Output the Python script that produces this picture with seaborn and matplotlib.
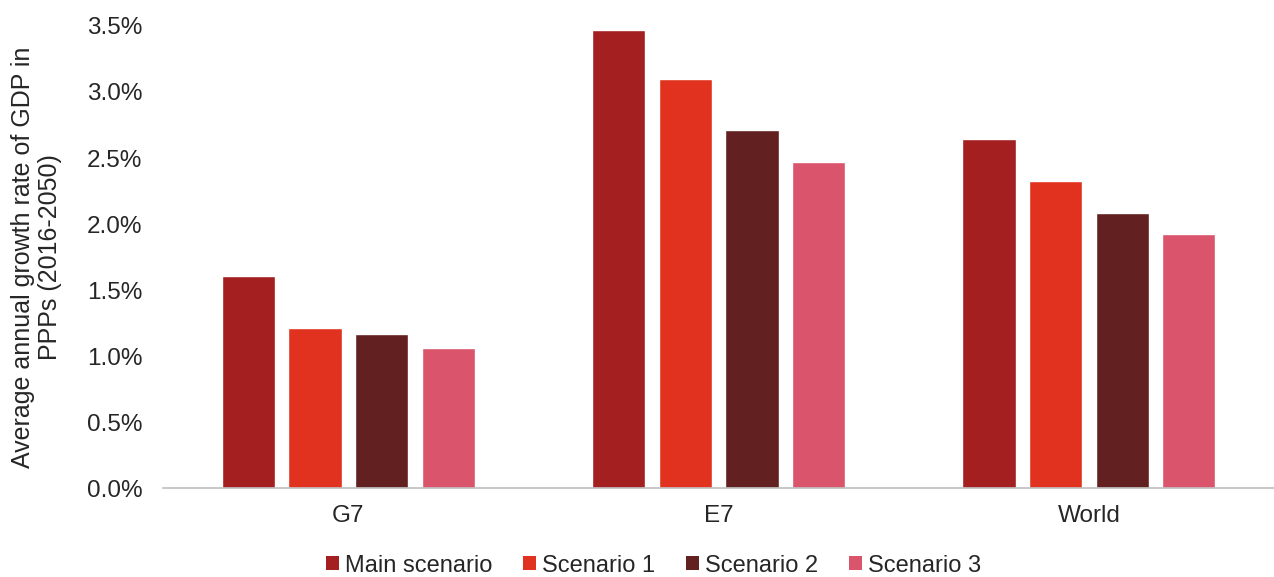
import pandas as pd
import matplotlib.pyplot as plt
import seaborn as sns
from matplotlib.patches import Patch
from matplotlib.ticker import FuncFormatter

# data
regions = ['G7', 'E7', 'World']
scenarios = ['Main scenario', 'Scenario 1', 'Scenario 2', 'Scenario 3']
main_scenario = [1.61, 3.47, 2.645]
scenario_1 = [1.21, 3.10, 2.325]
scenario_2 = [1.165, 2.71, 2.085]
scenario_3 = [1.06, 2.47, 1.925]
colors = ['#A31F20', '#E0321E', '#622020', '#DA546C']


def main():
    sns.set_style('white')
    plt.rcParams['font.family'] = ['Liberation Sans', 'DejaVu Sans']

    rows = []
    for name, vals in zip(scenarios, [main_scenario, scenario_1, scenario_2, scenario_3]):
        for reg, v in zip(regions, vals):
            rows.append({'region': reg, 'scenario': name, 'value': v})
    df = pd.DataFrame(rows)

    fig = plt.figure(figsize=(12.74, 5.77), dpi=100)
    ax = fig.add_axes([0.128, 0.154, 0.872, 0.801])

    sns.barplot(data=df, x='region', y='value', hue='scenario', order=regions,
                hue_order=scenarios, palette=colors, width=0.72, gap=0.2,
                saturation=1, legend=False, ax=ax)

    ax.set_ylim(0, 3.5)
    ax.set_yticks([0, 0.5, 1.0, 1.5, 2.0, 2.5, 3.0, 3.5])
    ax.yaxis.set_major_formatter(FuncFormatter(lambda v, p: f'{v:.1f}%'))
    ax.set_xlabel('')
    ax.set_ylabel('Average annual growth rate of GDP in\nPPPs (2016-2050)',
                  fontsize=18, color='#262626', labelpad=18, linespacing=1.15)
    ax.tick_params(axis='both', length=0, labelsize=17.5, colors='#262626')
    ax.tick_params(axis='y', pad=15)
    ax.tick_params(axis='x', pad=12)

    for s in ['top', 'right', 'left']:
        ax.spines[s].set_visible(False)
    ax.spines['bottom'].set_color('#BFBFBF')
    ax.spines['bottom'].set_linewidth(1.2)

    handles = [Patch(facecolor=c, edgecolor='none', label=n) for c, n in zip(colors, scenarios)]
    fig.legend(handles=handles, loc='lower center', bbox_to_anchor=(0.513, -0.032),
               ncol=4, frameon=False, fontsize=17, handlelength=0.55, handleheight=0.55,
               handletextpad=0.25, columnspacing=1.3, borderpad=0.3)

    plt.savefig('out.png', dpi=100)


if __name__ == "__main__":
    main()
